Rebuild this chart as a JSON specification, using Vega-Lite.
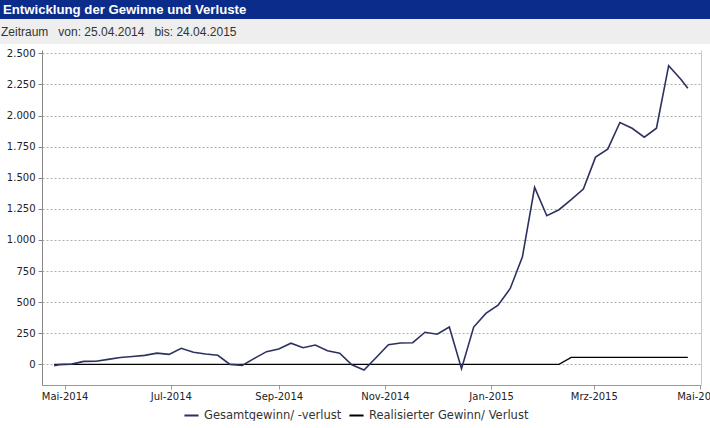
{
  "$schema": "https://vega.github.io/schema/vega-lite/v6.json",
  "padding": 0,
  "background": "white",
  "spacing": 4,
  "align": "none",
  "vconcat": [
    {
      "spacing": 0,
      "vconcat": [
        {
          "width": 710,
          "height": 19,
          "view": {"fill": "#0b2c8a", "stroke": null},
          "data": {"values": [{"label": "Entwicklung der Gewinne und Verluste", "pos": 0}]},
          "mark": {"type": "text", "align": "left", "baseline": "middle", "dx": 3, "font": "Liberation Sans", "fontSize": 13.2, "fontWeight": "bold", "color": "#ffffff"},
          "encoding": {
            "x": {"field": "pos", "type": "quantitative", "scale": {"domain": [0, 1]}, "axis": null},
            "text": {"field": "label"}
          }
        },
        {
          "width": 710,
          "height": 25,
          "view": {"fill": "#eeeeee", "stroke": null},
          "data": {"values": [{"label": "Zeitraum\u00a0\u00a0\u00a0von: 25.04.2014\u00a0\u00a0\u00a0bis: 24.04.2015", "pos": 0}]},
          "mark": {"type": "text", "align": "left", "baseline": "middle", "dx": 1, "font": "Liberation Sans", "fontSize": 12, "color": "#333333"},
          "encoding": {
            "x": {"field": "pos", "type": "quantitative", "scale": {"domain": [0, 1]}, "axis": null},
            "text": {"field": "label"}
          }
        }
      ]
    },
    {
      "width": 701,
      "height": 335,
      "view": {"stroke": null},
      "data": {"values": [
        {"date": "2014-04-25", "series": "Gesamtgewinn/ -verlust", "value": -10},
        {"date": "2014-04-28", "series": "Gesamtgewinn/ -verlust", "value": -2},
        {"date": "2014-05-05", "series": "Gesamtgewinn/ -verlust", "value": 2},
        {"date": "2014-05-12", "series": "Gesamtgewinn/ -verlust", "value": 24},
        {"date": "2014-05-19", "series": "Gesamtgewinn/ -verlust", "value": 25},
        {"date": "2014-05-26", "series": "Gesamtgewinn/ -verlust", "value": 40},
        {"date": "2014-06-02", "series": "Gesamtgewinn/ -verlust", "value": 55},
        {"date": "2014-06-09", "series": "Gesamtgewinn/ -verlust", "value": 63},
        {"date": "2014-06-16", "series": "Gesamtgewinn/ -verlust", "value": 72},
        {"date": "2014-06-23", "series": "Gesamtgewinn/ -verlust", "value": 90},
        {"date": "2014-06-30", "series": "Gesamtgewinn/ -verlust", "value": 80},
        {"date": "2014-07-07", "series": "Gesamtgewinn/ -verlust", "value": 129},
        {"date": "2014-07-14", "series": "Gesamtgewinn/ -verlust", "value": 97},
        {"date": "2014-07-21", "series": "Gesamtgewinn/ -verlust", "value": 83},
        {"date": "2014-07-28", "series": "Gesamtgewinn/ -verlust", "value": 73},
        {"date": "2014-08-04", "series": "Gesamtgewinn/ -verlust", "value": 0},
        {"date": "2014-08-11", "series": "Gesamtgewinn/ -verlust", "value": -8},
        {"date": "2014-08-18", "series": "Gesamtgewinn/ -verlust", "value": 48},
        {"date": "2014-08-25", "series": "Gesamtgewinn/ -verlust", "value": 102},
        {"date": "2014-09-01", "series": "Gesamtgewinn/ -verlust", "value": 124},
        {"date": "2014-09-08", "series": "Gesamtgewinn/ -verlust", "value": 170},
        {"date": "2014-09-15", "series": "Gesamtgewinn/ -verlust", "value": 134},
        {"date": "2014-09-22", "series": "Gesamtgewinn/ -verlust", "value": 155},
        {"date": "2014-09-29", "series": "Gesamtgewinn/ -verlust", "value": 110},
        {"date": "2014-10-06", "series": "Gesamtgewinn/ -verlust", "value": 89},
        {"date": "2014-10-13", "series": "Gesamtgewinn/ -verlust", "value": -3},
        {"date": "2014-10-20", "series": "Gesamtgewinn/ -verlust", "value": -46},
        {"date": "2014-10-27", "series": "Gesamtgewinn/ -verlust", "value": 55},
        {"date": "2014-11-03", "series": "Gesamtgewinn/ -verlust", "value": 158},
        {"date": "2014-11-10", "series": "Gesamtgewinn/ -verlust", "value": 172},
        {"date": "2014-11-17", "series": "Gesamtgewinn/ -verlust", "value": 174},
        {"date": "2014-11-24", "series": "Gesamtgewinn/ -verlust", "value": 258},
        {"date": "2014-12-01", "series": "Gesamtgewinn/ -verlust", "value": 242},
        {"date": "2014-12-08", "series": "Gesamtgewinn/ -verlust", "value": 300},
        {"date": "2014-12-15", "series": "Gesamtgewinn/ -verlust", "value": -35},
        {"date": "2014-12-22", "series": "Gesamtgewinn/ -verlust", "value": 300},
        {"date": "2014-12-29", "series": "Gesamtgewinn/ -verlust", "value": 410},
        {"date": "2015-01-05", "series": "Gesamtgewinn/ -verlust", "value": 476},
        {"date": "2015-01-12", "series": "Gesamtgewinn/ -verlust", "value": 610},
        {"date": "2015-01-19", "series": "Gesamtgewinn/ -verlust", "value": 865},
        {"date": "2015-01-26", "series": "Gesamtgewinn/ -verlust", "value": 1423},
        {"date": "2015-02-02", "series": "Gesamtgewinn/ -verlust", "value": 1195},
        {"date": "2015-02-09", "series": "Gesamtgewinn/ -verlust", "value": 1243},
        {"date": "2015-02-16", "series": "Gesamtgewinn/ -verlust", "value": 1324},
        {"date": "2015-02-23", "series": "Gesamtgewinn/ -verlust", "value": 1409},
        {"date": "2015-03-02", "series": "Gesamtgewinn/ -verlust", "value": 1666},
        {"date": "2015-03-09", "series": "Gesamtgewinn/ -verlust", "value": 1730},
        {"date": "2015-03-16", "series": "Gesamtgewinn/ -verlust", "value": 1944},
        {"date": "2015-03-23", "series": "Gesamtgewinn/ -verlust", "value": 1898},
        {"date": "2015-03-30", "series": "Gesamtgewinn/ -verlust", "value": 1826},
        {"date": "2015-04-06", "series": "Gesamtgewinn/ -verlust", "value": 1898},
        {"date": "2015-04-13", "series": "Gesamtgewinn/ -verlust", "value": 2401},
        {"date": "2015-04-20", "series": "Gesamtgewinn/ -verlust", "value": 2292},
        {"date": "2015-04-24", "series": "Gesamtgewinn/ -verlust", "value": 2219},
        {"date": "2014-04-25", "series": "Realisierter Gewinn/ Verlust", "value": 0},
        {"date": "2015-02-09", "series": "Realisierter Gewinn/ Verlust", "value": 0},
        {"date": "2015-02-16", "series": "Realisierter Gewinn/ Verlust", "value": 56},
        {"date": "2015-04-24", "series": "Realisierter Gewinn/ Verlust", "value": 56}
      ]},
      "encoding": {
        "x": {
          "field": "date",
          "type": "temporal",
          "scale": {"type": "utc", "nice": false, "range": [42, 701], "domain": [
            {"year": 2014, "month": 4, "date": 18, "utc": true},
            {"year": 2015, "month": 5, "date": 1, "hours": 14, "utc": true}
          ]},
          "axis": {
            "title": null,
            "grid": false,
            "values": [
              {"year": 2014, "month": 5, "date": 1, "utc": true},
              {"year": 2014, "month": 7, "date": 1, "utc": true},
              {"year": 2014, "month": 9, "date": 1, "utc": true},
              {"year": 2014, "month": 11, "date": 1, "utc": true},
              {"year": 2015, "month": 1, "date": 1, "utc": true},
              {"year": 2015, "month": 3, "date": 1, "utc": true},
              {"year": 2015, "month": 5, "date": 1, "utc": true}
            ],
            "labelExpr": "['Jan','Feb','Mrz','Apr','Mai','Jun','Jul','Aug','Sep','Okt','Nov','Dez'][utcmonth(datum.value)] + '-' + utcyear(datum.value)",
            "labelOverlap": false,
            "labelFlush": false,
            "labelFont": "DejaVu Sans",
            "labelFontSize": 10,
            "labelColor": "#222222",
            "labelPadding": 2,
            "tickSize": 4,
            "tickColor": "#999999",
            "domainColor": "#999999"
          }
        },
        "color": {
          "field": "series",
          "type": "nominal",
          "scale": {
            "domain": ["Gesamtgewinn/ -verlust", "Realisierter Gewinn/ Verlust"],
            "range": ["#2c3160", "#000000"]
          },
          "legend": {
            "orient": "none",
            "legendX": 183,
            "legendY": 407,
            "direction": "horizontal",
            "title": null,
            "symbolType": "stroke",
            "symbolStrokeWidth": 2,
            "symbolSize": 200,
            "labelFont": "DejaVu Sans",
            "labelFontSize": 11.5,
            "labelColor": "#333333",
            "columnPadding": 3,
            "padding": 0
          }
        }
      },
      "layer": [
        {
          "transform": [{"filter": "datum.series === 'Realisierter Gewinn/ Verlust'"}],
          "mark": {"type": "line", "strokeWidth": 1.3},
          "encoding": {
            "y": {
              "field": "value",
              "type": "quantitative",
              "scale": {"domain": [-166, 2527], "nice": false, "zero": false},
              "axis": {
                "title": null,
                "offset": -42,
                "values": [0, 250, 500, 750, 1000, 1250, 1500, 1750, 2000, 2250, 2500],
                "labelExpr": "replace(format(datum.value, ','), ',', '.')",
                "grid": true,
                "gridDash": [2, 2],
                "gridColor": "#999999",
                "gridWidth": 0.8,
                "tickSize": 4,
                "tickColor": "#888888",
                "domainColor": "#888888",
                "labelPadding": 3,
                "labelFont": "DejaVu Sans",
                "labelFontSize": 10,
                "labelColor": "#222222"
              }
            }
          }
        },
        {
          "transform": [{"filter": "datum.series === 'Gesamtgewinn/ -verlust'"}],
          "mark": {"type": "line", "strokeWidth": 1.6},
          "encoding": {
            "y": {
              "field": "value",
              "type": "quantitative",
              "scale": {"domain": [-166, 2527], "nice": false, "zero": false},
              "axis": {
                "orient": "right",
                "title": null,
                "labels": false,
                "ticks": false,
                "grid": false,
                "domainColor": "#c8c8c8"
              }
            }
          }
        }
      ],
      "resolve": {"axis": {"y": "independent"}}
    }
  ]
}
